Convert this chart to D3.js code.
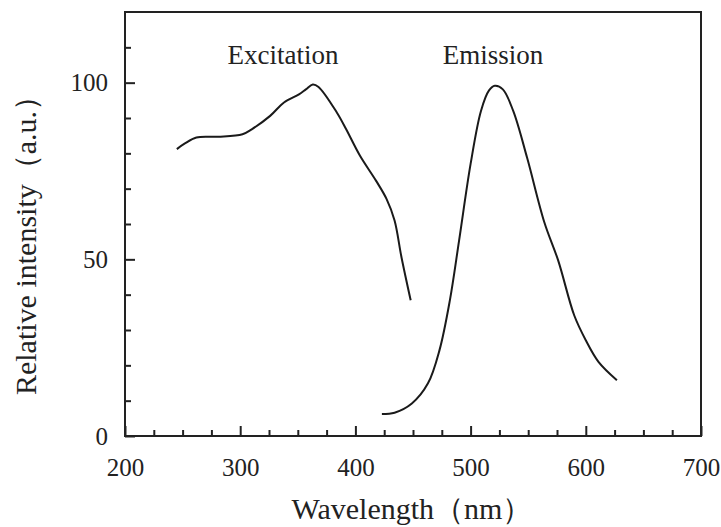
<!DOCTYPE html>
<html>
<meta charset="utf-8">
<head>
  <script src="https://d3js.org/d3.v7.min.js"></script>
  <style>
    body { margin: 0; background: #fff; }
    svg text { font-family: "Liberation Serif", "Times New Roman", serif; fill: #222; }
  </style>
</head>
<body>
<div id="chart"></div>
<script>
  // excitation spectrum (wavelength nm, relative intensity)
  var excNm  = [245, 252, 262, 281, 302, 310, 326, 338, 351, 357, 363, 368, 384, 392, 404, 418, 427, 434, 440, 448];
  var excVal = [81.2, 82.8, 84.5, 84.7, 85.4, 86.8, 90.6, 94.4, 96.7, 98.1, 99.5, 98.8, 91.5, 86.8, 79.3, 72.2, 67.1, 61, 50.6, 38.4];

  // emission spectrum
  var emNm  = [423, 434, 449, 463, 473, 482, 490, 500, 509, 516, 521, 528, 537, 549, 564, 576, 590, 600, 611, 627];
  var emVal = [6.2, 6.6, 9.2, 14.9, 24.3, 38.4, 55.3, 77, 92, 97.8, 99.1, 98.1, 92, 78.8, 60.5, 49.7, 34.1, 27.1, 21, 15.8];

  var xMajor = [200, 300, 400, 500, 600, 700];
  var xMinor = [225, 250, 275, 325, 350, 375, 425, 450, 475, 525, 550, 575, 625, 650, 675];
  var yMajor = [0, 50, 100];
  var yMinor = [10, 20, 30, 40, 60, 70, 80, 90, 110];

  var labelText = ["Excitation", "Emission"];
  var labelPos = [283, 493];

  var width = 721, height = 527;
  var margin = {top: 12, right: 20, bottom: 91, left: 125};

  var svg = d3.select("#chart").append("svg")
      .attr("width", width)
      .attr("height", height);

  var x = d3.scaleLinear().domain([200, 700]).range([margin.left, width - margin.right]);
  var y = d3.scaleLinear().domain([0, 120]).range([height - margin.bottom, margin.top]);

  // frame
  svg.append("rect")
    .attr("x", x(200)).attr("y", y(120))
    .attr("width", x(700) - x(200)).attr("height", y(0) - y(120))
    .attr("fill", "none").attr("stroke", "#222").attr("stroke-width", 2);

  // x axis: majors with labels, minors without
  svg.append("g").attr("transform", "translate(0," + y(0) + ")")
    .call(d3.axisBottom(x).tickValues(xMajor).tickSize(-10).tickPadding(22).tickFormat(d3.format("d")));
  svg.append("g").attr("transform", "translate(0," + y(0) + ")")
    .call(d3.axisBottom(x).tickValues(xMinor).tickSize(-6).tickFormat(""));

  svg.append("g").attr("transform", "translate(" + x(200) + ",0)")
    .call(d3.axisLeft(y).tickValues(yMajor).tickSize(-10).tickPadding(17).tickFormat(d3.format("d")));
  svg.append("g").attr("transform", "translate(" + x(200) + ",0)")
    .call(d3.axisLeft(y).tickValues(yMinor).tickSize(-6).tickFormat(""));

  svg.selectAll("g").attr("font-family", "Liberation Serif, serif");
  svg.selectAll(".domain").remove();
  svg.selectAll(".tick line").attr("stroke", "#222").attr("stroke-width", 2);
  svg.selectAll(".tick text").style("font-size", "25px").attr("fill", "#222");

  // curves
  var line = d3.line()
    .x(function(d) { return x(d[0]); })
    .y(function(d) { return y(d[1]); })
    .curve(d3.curveCatmullRom.alpha(0.5));

  var exc = excNm.map(function(d, i) { return [d, excVal[i]]; });
  var em = emNm.map(function(d, i) { return [d, emVal[i]]; });

  [exc, em].forEach(function(s) {
    svg.append("path")
      .attr("d", line(s))
      .attr("fill", "none")
      .attr("stroke", "#1a1a1a")
      .attr("stroke-width", 2);
  });

  // curve labels
  svg.selectAll(".lbl").data(labelText).enter().append("text")
    .attr("x", function(d, i) { return labelPos[i]; })
    .attr("y", 64)
    .attr("text-anchor", "middle")
    .style("font-size", "27px")
    .text(function(d) { return d; });

  // axis titles
  svg.append("text")
    .attr("x", 412).attr("y", 519)
    .attr("text-anchor", "middle")
    .style("font-size", "30px")
    .text("Wavelength（nm）");

  svg.append("text")
    .attr("transform", "translate(36,238) rotate(-90)")
    .attr("text-anchor", "middle")
    .style("font-size", "30px")
    .text("Relative intensity（a.u.）");
</script>
</body>
</html>
